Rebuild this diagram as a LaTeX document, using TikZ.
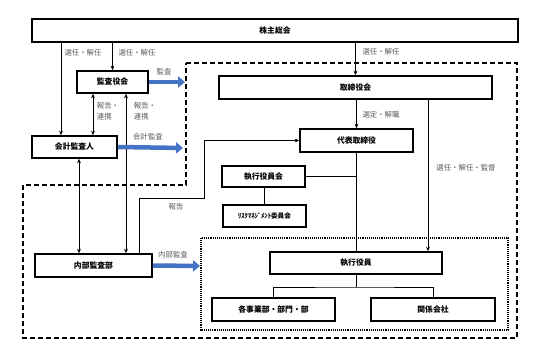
\documentclass[tikz,border=0pt]{standalone}
\usepackage{fontspec}
\setmainfont{Noto Sans CJK JP}
\usetikzlibrary{arrows.meta}
\definecolor{bluearr}{RGB}{68,114,196}
\definecolor{lblgray}{RGB}{90,90,90}
\begin{document}
\begin{tikzpicture}[x=1pt,y=-1pt,
  box/.style={draw, line width=1.6pt, fill=white, inner sep=0pt, font=\fontsize{7.8}{9}\selectfont\bfseries},
  lbl/.style={text=lblgray, inner sep=0pt, font=\fontsize{7.4}{11}\selectfont, align=left},
  arr/.style={line width=0.9pt, -{Stealth[length=4.5pt,width=3.8pt]}},
  darr/.style={line width=0.9pt, {Stealth[length=4.5pt,width=3.8pt]}-{Stealth[length=4.5pt,width=3.8pt]}},
  plain/.style={line width=0.9pt},
  blk/.style={draw=bluearr, line width=4.5pt, -{Triangle[length=7pt,width=11pt]}},
  region/.style={line width=1.3pt, dash pattern=on 5pt off 3pt},
  dotregion/.style={line width=1.6pt, dash pattern=on 1pt off 0.9pt}
]
\path[use as bounding box, fill=white] (0,0) rectangle (542,356);

% regions
\draw[region] (186,63) -- (517,63) -- (517,338) -- (23,338) -- (23,185) -- (186,185) -- cycle;
\draw[dotregion] (201,238) rectangle (508,330);

% nodes
\node[box, minimum width=486, minimum height=23] (sh) at (275,30.5) {株主総会};
\node[box, minimum width=71, minimum height=22] (kansa) at (112.5,82) {監査役会};
\node[box, minimum width=85, minimum height=22] (kaikei) at (74.5,147) {会計監査人};
\node[box, minimum width=117, minimum height=23] (naibu) at (93.5,265.5) {内部監査部};
\node[box, minimum width=273, minimum height=23] (tori) at (355.5,87.5) {取締役会};
\node[box, minimum width=113, minimum height=23] (daihyo) at (356.5,140.5) {代表取締役};
\node[box, minimum width=83, minimum height=21] (shikkokai) at (263.5,176.5) {執行役員会};
\node[box, minimum width=83, minimum height=22] (risk) at (264.5,216) {{\fontsize{6.6}{8}\selectfont ﾘｽｸﾏﾈｼﾞﾒﾝﾄ委員会}};
\node[box, minimum width=172, minimum height=22] (shikko) at (356,263) {執行役員};
\node[box, minimum width=123, minimum height=23] (jigyo) at (273.5,309.5) {各事業部・部門・部};
\node[box, minimum width=124, minimum height=23] (kankei) at (433,309.5) {関係会社};

% helper coordinates
\coordinate (x61) at (61,0);
\coordinate (x93) at (93,0);
\coordinate (x79) at (79,0);
\coordinate (x126) at (126,0);
\coordinate (x139) at (139,0);
\coordinate (x428) at (428,0);
\coordinate (r1) at (204,198);
\coordinate (br) at (356,287);
\coordinate (e1) at (185,82);
\coordinate (e2) at (183,148);
\coordinate (e3) at (200,266);

% connectors
\draw[arr] (sh.south -| x61) -- (kaikei.north -| x61);
\draw[arr] (sh.south -| kansa.north) -- (kansa.north);
\draw[arr] (sh.south -| tori.north) -- (tori.north);
\draw[arr] (tori.south -| daihyo.north) -- (daihyo.north);
\draw[darr] (kansa.south -| x93) -- (kaikei.north -| x93);
\draw[darr] (kaikei.south -| x79) -- (naibu.north -| x79);
\draw[darr] (kansa.south -| x126) -- (naibu.north -| x126);
\draw[arr] (naibu.north -| x139) |- (r1) |- (daihyo.west);
\draw[plain] (daihyo.south) -- (shikko.north -| daihyo.south);
\draw[plain] (shikkokai.east) -- (shikkokai.east -| daihyo.south);
\draw[plain] (shikkokai.south -| risk.north) -- (risk.north);
\draw[arr] (tori.south -| x428) -- (shikko.north -| x428);
\draw[plain] (shikko.south) -- (br);
\draw[plain] (jigyo.north) |- (br) -| (kankei.north);

% blue block arrows
\draw[blk] (kansa.east) -- (e1);
\draw[blk] (kaikei.east) -- (e2);
\draw[blk] (naibu.east) -- (e3);

% labels
\node[lbl] (l1) at (83,53) {選任・解任};
\node[lbl] (l2) at (137,53) {選任・解任};
\node[lbl] (l3) at (381,52) {選任・解任};
\node[lbl] (l4) at (164,72) {監査};
\node[lbl] (l5) at (108,111) {報告・\\連携};
\node[lbl] (l6) at (145,111) {報告・\\連携};
\node[lbl] (l7) at (148,137) {会計監査};
\node[lbl] (l8) at (381,115) {選定・解職};
\node[lbl] (l9) at (466,168) {選任・解任・監督};
\node[lbl] (l10) at (176,207) {報告};
\node[lbl] (l11) at (173,255) {内部監査};
\end{tikzpicture}
\end{document}
